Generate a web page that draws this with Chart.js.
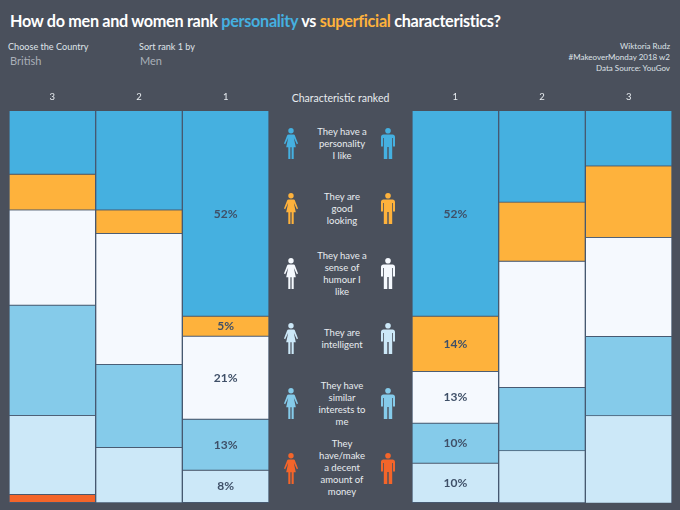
<!DOCTYPE html>
<html>
<head>
<meta charset="utf-8">
<script src="https://cdn.jsdelivr.net/npm/chart.js@4"></script>
<style>
  html, body { margin: 0; padding: 0; }
  body { width: 680px; height: 510px; background: #4a505c; position: relative; overflow: hidden; font-family: Lato, sans-serif; color: #e8ecf0; }
  .abs { position: absolute; white-space: nowrap; }
  #title { left: 10px; top: 11px; font-size: 16.2px; letter-spacing: -0.3px; font-weight: 700; color: #fff; }
  .lab { font-size: 9.1px; color: #dfe3e8; }
  .val { font-size: 11px; color: #a9afb8; }
  #credit { right: 10px; top: 41px; font-size: 8px; line-height: 11px; text-align: right; color: #dfe3e8; }
  #head { left: 269px; width: 143px; top: 92px; text-align: center; font-size: 10.5px; }
  .txt { left: 302px; width: 80px; text-align: center; font-size: 9.500px; line-height: 12.2px; white-space: pre-line; color: #e8ecf0; transform: translateY(-50%); }
  canvas { position: absolute; }
  svg.ico { position: absolute; width: 14px; height: 31px; }
</style>
</head>
<body>
<div class="abs" id="title">How do men and women rank <span style="color:#45b0e0">personality</span> vs <span style="color:#feb23c">superficial</span> characteristics?</div>
<div class="abs lab" style="left:8px;top:41px">Choose the Country</div>
<div class="abs val" style="left:10px;top:54px">British</div>
<div class="abs lab" style="left:139px;top:41px">Sort rank 1 by</div>
<div class="abs val" style="left:140px;top:54px">Men</div>
<div class="abs" id="credit">Wiktoria Rudz<br>#MakeoverMonday 2018 w2<br>Data Source: YouGov</div>
<div class="abs" id="head">Characteristic ranked</div>

<svg width="0" height="0" style="position:absolute">
  <symbol id="woman" viewBox="0 0 14 31">
    <circle cx="7" cy="2.8" r="2.7"/>
    <path d="M4.6 6.500h4.800c.8 0 1.200.4 1.500 1L14 15.600l-1.200.6-3-6.400 2 9.400H9.700V31H7.600V19.200H6.400V31H4.300V19.200H2.200l2-9.400-3 6.400L0 15.600 3.100 7.500c.3-.6.7-1 1.500-1z"/>
  </symbol>
  <symbol id="man" viewBox="0 0 14 31">
    <circle cx="7" cy="2.800" r="2.800"/>
    <path d="M2.500 6.500h9c1.500 0 2.500 1 2.500 2.500v9.500h-2V10h-.8v21H7.700V19H6.300v12H2.800V10H2v8.500H0V9c0-1.500 1-2.500 2.500-2.500z"/>
  </symbol>
</svg>

<canvas id="leftChart" style="left:9px;top:85px;width:260px;height:418px"></canvas>
<canvas id="rightChart" style="left:412px;top:85px;width:260px;height:418px"></canvas>
<div id="middle"></div>

<script>
// Columns run left to right, so the women's side reads 3, 2, 1 and the other side 1, 2, 3
const ranksLeft = ['3', '2', '1'];
const ranksRight = ['1', '2', '3'];

const characteristics = [
  'They have a\npersonality\nI like',
  'They are\ngood\nlooking',
  'They have a\nsense of\nhumour I\nlike',
  'They are\nintelligent',
  'They have\nsimilar\ninterests to\nme',
  'They\nhave/make\na decent\namount of\nmoney'
];
const rowColours = ['#45b0e0', '#feb23c', '#f5f9fe', '#cce8f8', '#85cbea', '#f4652a'];
// The stack does not follow the row order: interests sit above intelligent
const stackColours = ['#45b0e0', '#feb23c', '#f5f9fe', '#85cbea', '#cce8f8', '#f4652a'];

// Share of people per rank
const personalityLeft = [16.2, 25.3, 52.4];
const lookingLeft = [9.1, 6.0, 5.1];
const humourLeft = [24.3, 33.4, 21.2];
const interestsLeft = [28.1, 21.2, 13.0];
const intelligentLeft = [20.2, 14.1, 8.2];
const moneyLeft = [2.0, 0, 0];

const personalityRight = [52.4, 23.3, 14.1];
const lookingRight = [14.1, 15.1, 18.2];
const humourRight = [13.2, 32.2, 25.3];
const interestsRight = [10.2, 16.1, 20.2];
const intelligentRight = [10.0, 13.3, 22.3];
const moneyRight = [0, 0, 0];

// Prints the % only on the rank 1 column
const rankOneLabels = {
  id: 'rankOneLabels',
  afterDatasetsDraw(chart) {
    const ctx = chart.ctx;
    const idx = chart.data.labels.indexOf('1');
    ctx.save();
    ctx.font = 'bold 12px Lato, sans-serif';
    ctx.fillStyle = '#3f5068';
    ctx.textAlign = 'center';
    ctx.textBaseline = 'middle';
    chart.data.datasets.forEach((ds, i) => {
      const val = ds.data[idx];
      if (!val) return;
      const bar = chart.getDatasetMeta(i).data[idx];
      ctx.fillText(Math.round(val) + '%', bar.x, (bar.y + bar.base) / 2);
    });
    ctx.restore();
  }
};

function drawStack(id, labels, series) {
  new Chart(document.getElementById(id), {
    type: 'bar',
    data: {
      labels: labels,
      datasets: series.map((data, i) => ({
        data: data,
        backgroundColor: stackColours[i],
        borderColor: 'rgba(70, 90, 115, 0.85)',
        borderWidth: 1,
        barPercentage: 1,
        categoryPercentage: 1
      }))
    },
    options: {
      responsive: false,
      animation: false,
      layout: { padding: 0 },
      plugins: { legend: { display: false }, tooltip: { enabled: false } },
      scales: {
        x: {
          stacked: true,
          position: 'top',
          grid: { display: false },
          border: { display: false },
          ticks: { color: '#e8ecf0', font: { family: 'Lato', size: 9.5 }, padding: 0, maxRotation: 0 },
          afterFit(scale) { scale.height = 26; }
        },
        y: { stacked: true, reverse: true, min: 0, max: 100, display: false }
      }
    },
    plugins: [rankOneLabels]
  });
}

// Sizes have to be set before Chart.js reads them
['leftChart', 'rightChart'].forEach(id => {
  const c = document.getElementById(id);
  c.width = 260;
  c.height = 418;
});

drawStack('leftChart', ranksLeft, [personalityLeft, lookingLeft, humourLeft, interestsLeft, intelligentLeft, moneyLeft]);
drawStack('rightChart', ranksRight, [personalityRight, lookingRight, humourRight, interestsRight, intelligentRight, moneyRight]);

// Middle column: text and the two figures on each row
let html = '';
characteristics.forEach((text, i) => {
  const y = 143.5 + 65 * i;
  html += `<div class="abs txt" style="top:${y}px">${text}</div>`;
  html += `<svg class="ico" style="left:284px;top:${y - 15.5}px;fill:${rowColours[i]}"><use href="#woman"/></svg>`;
  html += `<svg class="ico" style="left:381px;top:${y - 15.5}px;fill:${rowColours[i]}"><use href="#man"/></svg>`;
});
document.getElementById('middle').innerHTML = html;
</script>
</body>
</html>
